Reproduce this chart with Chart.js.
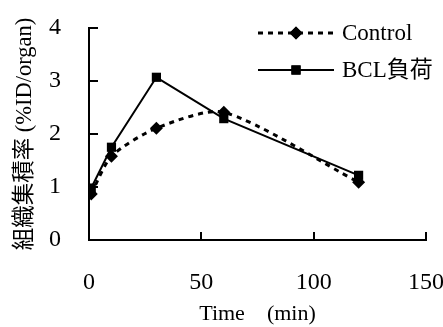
<!DOCTYPE html>
<html>
<head>
<meta charset="utf-8">
<script src="https://cdn.jsdelivr.net/npm/chart.js@4/dist/chart.umd.min.js"></script>
<style>
  html, body { margin: 0; padding: 0; background: #fff; overflow: hidden; }
  #wrap { position: relative; width: 443px; height: 327px; }
</style>
</head>
<body>
<div id="wrap"><canvas id="chart"></canvas></div>
<script>
// data
const timePoints = [1, 10, 30, 60, 120];
const controlValues = [0.87, 1.58, 2.11, 2.41, 1.09];
const bclValues = [0.98, 1.75, 3.07, 2.29, 1.22];
const seriesNames = ['Control', 'BCL負荷'];
const xTicks = [0, 50, 100, 150];
const yTicks = [0, 1, 2, 3, 4];

const FONT = '"Liberation Serif", "Times New Roman", "Noto Sans CJK JP", serif';

function toPoints(xs, ys) {
    return xs.map((x, i) => ({ x: x, y: ys[i] }));
}

// ticks pointing into the plot, like the original
const innerTicks = {
    id: 'innerTicks',
    afterDatasetsDraw(chart) {
        const ctx = chart.ctx;
        const xs = chart.scales.x;
        const ys = chart.scales.y;
        const area = chart.chartArea;
        ctx.save();
        ctx.strokeStyle = '#000';
        ctx.lineWidth = 2;
        ctx.beginPath();
        yTicks.slice(1).forEach(v => {
            const py = Math.round(ys.getPixelForValue(v));
            ctx.moveTo(area.left, py);
            ctx.lineTo(area.left + 9, py);
        });
        xTicks.slice(1).forEach(v => {
            const px = Math.round(xs.getPixelForValue(v));
            ctx.moveTo(px, area.bottom);
            ctx.lineTo(px, area.bottom - 8);
        });
        ctx.stroke();
        ctx.restore();
    }
};

// legend with the marker sitting on the line sample
const lineLegend = {
    id: 'lineLegend',
    afterDraw(chart) {
        const ctx = chart.ctx;
        const rows = [33, 70];
        ctx.save();
        chart.data.datasets.forEach((ds, i) => {
            const y = rows[i];
            ctx.strokeStyle = '#000';
            ctx.lineWidth = ds.borderWidth;
            ctx.setLineDash(ds.borderDash || []);
            ctx.beginPath();
            ctx.moveTo(258, y);
            ctx.lineTo(334, y);
            ctx.stroke();
            ctx.setLineDash([]);
            ctx.fillStyle = '#000';
            Chart.helpers.drawPoint(ctx, {
                pointStyle: ds.pointStyle,
                radius: ds.pointRadius,
                borderWidth: 0
            }, 296, y);
            ctx.fill();
            ctx.font = '23px ' + FONT;
            ctx.textBaseline = 'middle';
            ctx.textAlign = 'left';
            ctx.fillText(ds.label, 342, y + 1);
        });
        ctx.restore();
    }
};

const ctx = document.getElementById('chart').getContext('2d');
const chart = new Chart(ctx, {
    type: 'line',
    data: {
        datasets: [
            {
                label: seriesNames[0],
                data: toPoints(timePoints, controlValues),
                borderColor: '#000',
                backgroundColor: '#000',
                borderWidth: 3,
                borderDash: [5, 5],
                tension: 0.25,
                pointStyle: 'rectRot',
                pointRadius: 6.5,
                pointBorderWidth: 0,
                fill: false
            },
            {
                label: seriesNames[1],
                data: toPoints(timePoints, bclValues),
                borderColor: '#000',
                backgroundColor: '#000',
                borderWidth: 2,
                tension: 0,
                pointStyle: 'rect',
                pointRadius: 6.5,
                pointBorderWidth: 0,
                fill: false
            }
        ]
    },
    plugins: [innerTicks, lineLegend],
    options: {
        responsive: true,
        maintainAspectRatio: false,
        animation: false,
        layout: {
            padding: { left: 0, right: 17, top: 28, bottom: 0 }
        },
        plugins: {
            legend: { display: false },
            tooltip: { enabled: false }
        },
        scales: {
            x: {
                type: 'linear',
                min: 0,
                max: 150,
                afterBuildTicks: s => { s.ticks = xTicks.map(v => ({ value: v })); },
                grid: { display: false, drawTicks: false },
                border: { display: true, color: '#000', width: 2 },
                ticks: {
                    color: '#000',
                    padding: 28,
                    maxRotation: 0,
                    font: { family: FONT, size: 24 }
                },
                title: {
                    display: true,
                    text: 'Time\u3000(min)',
                    color: '#000',
                    font: { family: FONT, size: 22 },
                    padding: { top: 2, bottom: 0 }
                },
                afterFit: s => { s.height = 87; s.paddingLeft = 0; s.paddingRight = 0; }
            },
            y: {
                min: 0,
                max: 4,
                afterBuildTicks: s => { s.ticks = yTicks.map(v => ({ value: v })); },
                grid: { display: false, drawTicks: false },
                border: { display: true, color: '#000', width: 2 },
                ticks: {
                    color: '#000',
                    padding: 28,
                    font: { family: FONT, size: 24 }
                },
                title: {
                    display: true,
                    text: '組織集積率 (%ID/organ)',
                    color: '#000',
                    font: { family: FONT, size: 22.5 },
                    padding: { top: 12, bottom: 0 }
                },
                afterFit: s => { s.width = 89; s.paddingTop = 0; s.paddingBottom = 0; }
            }
        }
    }
});
</script>
</body>
</html>
